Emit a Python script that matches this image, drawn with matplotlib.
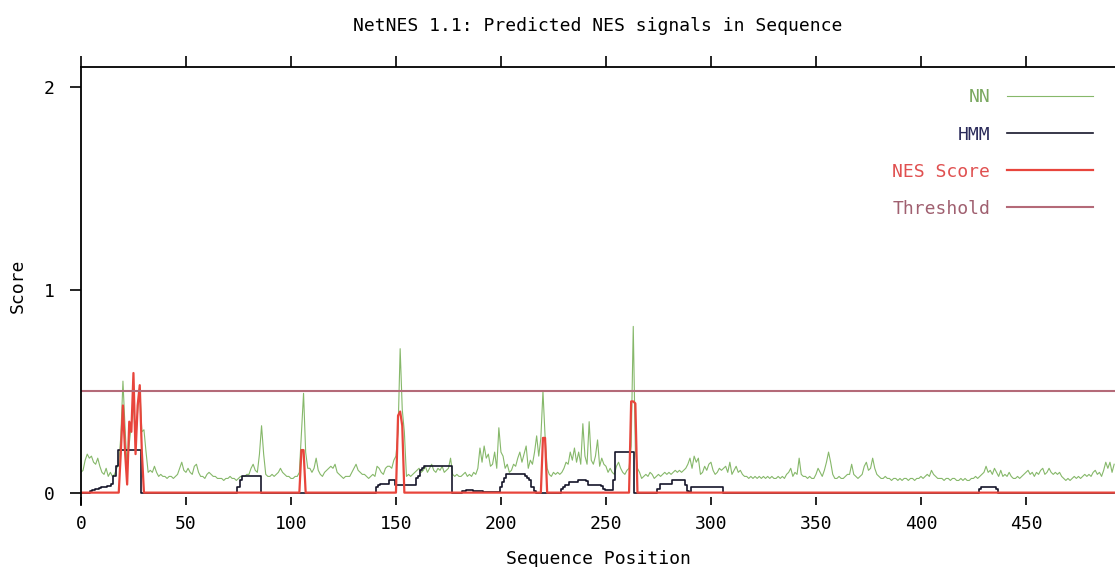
import matplotlib
matplotlib.use("Agg")
import matplotlib.pyplot as plt
import numpy as np

# NN score per residue (position 0..492)
nn = [
    0.10, 0.11, 0.16, 0.19, 0.17, 0.18, 0.15, 0.14, 0.17, 0.13,
    0.10, 0.09, 0.12, 0.08, 0.10, 0.08, 0.09, 0.12, 0.14, 0.28,
    0.55, 0.32, 0.12, 0.24, 0.34, 0.44, 0.24, 0.40, 0.52, 0.30,
    0.31, 0.20, 0.10, 0.11, 0.10, 0.13, 0.10, 0.08, 0.09, 0.08,
    0.08, 0.07, 0.08, 0.08, 0.07, 0.08, 0.09, 0.12, 0.15, 0.11,
    0.10, 0.12, 0.10, 0.09, 0.13, 0.14, 0.10, 0.08, 0.08, 0.07,
    0.09, 0.10, 0.09, 0.08, 0.08, 0.07, 0.07, 0.07, 0.06, 0.07,
    0.07, 0.08, 0.07, 0.07, 0.06, 0.07, 0.08, 0.08, 0.08, 0.09,
    0.09, 0.12, 0.14, 0.11, 0.10, 0.19, 0.33, 0.19, 0.09, 0.08,
    0.08, 0.09, 0.08, 0.09, 0.10, 0.12, 0.10, 0.09, 0.08, 0.08,
    0.07, 0.07, 0.08, 0.08, 0.10, 0.29, 0.49, 0.20, 0.12, 0.12,
    0.10, 0.12, 0.17, 0.11, 0.09, 0.08, 0.10, 0.11, 0.12, 0.13,
    0.12, 0.14, 0.10, 0.09, 0.08, 0.07, 0.08, 0.08, 0.08, 0.10,
    0.12, 0.14, 0.11, 0.10, 0.09, 0.09, 0.08, 0.07, 0.08, 0.09,
    0.08, 0.13, 0.12, 0.10, 0.09, 0.12, 0.13, 0.13, 0.12, 0.16,
    0.18, 0.30, 0.71, 0.41, 0.30, 0.08, 0.09, 0.08, 0.09, 0.10,
    0.11, 0.12, 0.10, 0.11, 0.13, 0.10, 0.12, 0.14, 0.11, 0.10,
    0.12, 0.11, 0.13, 0.10, 0.11, 0.12, 0.17, 0.09, 0.08, 0.09,
    0.08, 0.08, 0.09, 0.10, 0.08, 0.09, 0.08, 0.10, 0.09, 0.12,
    0.22, 0.15, 0.23, 0.17, 0.19, 0.13, 0.14, 0.20, 0.12, 0.32,
    0.20, 0.18, 0.12, 0.14, 0.10, 0.11, 0.14, 0.13, 0.17, 0.20,
    0.15, 0.19, 0.23, 0.12, 0.16, 0.14, 0.20, 0.28, 0.18, 0.27,
    0.50, 0.28, 0.12, 0.09, 0.08, 0.10, 0.09, 0.10, 0.09, 0.10,
    0.12, 0.15, 0.14, 0.20, 0.16, 0.22, 0.15, 0.20, 0.14, 0.34,
    0.18, 0.14, 0.35, 0.16, 0.14, 0.18, 0.26, 0.13, 0.17, 0.14,
    0.13, 0.10, 0.12, 0.10, 0.09, 0.13, 0.15, 0.12, 0.10, 0.09,
    0.11, 0.12, 0.23, 0.82, 0.21, 0.12, 0.10, 0.07, 0.08, 0.09,
    0.08, 0.10, 0.09, 0.07, 0.08, 0.09, 0.08, 0.09, 0.10, 0.09,
    0.10, 0.09, 0.10, 0.11, 0.10, 0.11, 0.10, 0.11, 0.12, 0.14,
    0.17, 0.12, 0.18, 0.15, 0.17, 0.09, 0.10, 0.13, 0.11, 0.14,
    0.15, 0.11, 0.09, 0.10, 0.12, 0.11, 0.12, 0.13, 0.10, 0.15,
    0.09, 0.11, 0.13, 0.10, 0.11, 0.09, 0.08, 0.08, 0.07, 0.08,
    0.07, 0.08, 0.07, 0.08, 0.07, 0.08, 0.07, 0.08, 0.07, 0.08,
    0.07, 0.07, 0.08, 0.07, 0.08, 0.07, 0.09, 0.10, 0.12, 0.08,
    0.10, 0.09, 0.17, 0.09, 0.08, 0.08, 0.07, 0.08, 0.07, 0.07,
    0.09, 0.12, 0.10, 0.08, 0.11, 0.15, 0.20, 0.15, 0.09, 0.07,
    0.07, 0.08, 0.07, 0.07, 0.08, 0.09, 0.09, 0.14, 0.09, 0.08,
    0.07, 0.08, 0.09, 0.13, 0.15, 0.11, 0.12, 0.17, 0.12, 0.09,
    0.08, 0.07, 0.07, 0.08, 0.07, 0.07, 0.06, 0.07, 0.07, 0.06,
    0.07, 0.06, 0.07, 0.07, 0.06, 0.07, 0.07, 0.06, 0.07, 0.07,
    0.08, 0.07, 0.08, 0.09, 0.08, 0.11, 0.09, 0.08, 0.07, 0.07,
    0.07, 0.06, 0.07, 0.07, 0.06, 0.07, 0.07, 0.06, 0.06, 0.07,
    0.06, 0.07, 0.06, 0.06, 0.07, 0.07, 0.08, 0.07, 0.08, 0.09,
    0.10, 0.13, 0.10, 0.11, 0.09, 0.12, 0.10, 0.08, 0.11, 0.08,
    0.09, 0.08, 0.10, 0.08, 0.07, 0.07, 0.08, 0.07, 0.08, 0.09,
    0.10, 0.11, 0.09, 0.10, 0.08, 0.10, 0.09, 0.11, 0.12, 0.09,
    0.10, 0.12, 0.10, 0.09, 0.10, 0.09, 0.10, 0.08, 0.07, 0.06,
    0.07, 0.06, 0.07, 0.08, 0.07, 0.08, 0.07, 0.08, 0.09, 0.08,
    0.09, 0.08, 0.10, 0.11, 0.09, 0.10, 0.08, 0.11, 0.15, 0.12,
    0.15, 0.10, 0.14,
]

# HMM score: non-zero stretches (start position, values)
hmm_segments = [
    (5, [0.01, 0.015, 0.02, 0.02, 0.025, 0.03, 0.03, 0.03, 0.035, 0.035,
         0.045, 0.08, 0.13, 0.21, 0.21, 0.21, 0.21, 0.21, 0.21, 0.21,
         0.21, 0.21, 0.21, 0.21]),
    (75, [0.03, 0.06, 0.08, 0.08, 0.08, 0.08, 0.08, 0.08, 0.08, 0.08, 0.08]),
    (141, [0.03, 0.04, 0.045, 0.045, 0.045, 0.045, 0.06, 0.06, 0.06,
           0.04, 0.04, 0.04, 0.04, 0.04, 0.04, 0.04, 0.04, 0.04, 0.04,
           0.07, 0.08, 0.11, 0.12, 0.13, 0.13, 0.13, 0.13, 0.13, 0.13,
           0.13, 0.13, 0.13, 0.13, 0.13, 0.13, 0.13]),
    (182, [0.01, 0.01, 0.015, 0.015, 0.015, 0.01, 0.01, 0.01, 0.01, 0.01,
           0.005, 0.005, 0.005, 0.005, 0.005, 0.005, 0.005, 0.005,
           0.03, 0.05, 0.07, 0.09, 0.09, 0.09, 0.09, 0.09, 0.09, 0.09,
           0.09, 0.09, 0.08, 0.07, 0.06, 0.03, 0.01]),
    (229, [0.02, 0.03, 0.04, 0.04, 0.05, 0.05, 0.05, 0.05, 0.06, 0.06,
           0.06, 0.06, 0.055, 0.04, 0.04, 0.04, 0.04, 0.04, 0.04, 0.035,
           0.02, 0.015, 0.015, 0.015, 0.015, 0.06, 0.20, 0.20, 0.20, 0.20,
           0.20, 0.20, 0.20, 0.20, 0.20]),
    (275, [0.02, 0.045, 0.045, 0.045, 0.045, 0.045, 0.045, 0.06, 0.06,
           0.06, 0.06, 0.06, 0.06, 0.04, 0.01, 0.005, 0.03, 0.03, 0.03,
           0.03, 0.03, 0.03, 0.03, 0.03, 0.03, 0.03, 0.03, 0.03, 0.03,
           0.03, 0.03]),
    (428, [0.02, 0.03, 0.03, 0.03, 0.03, 0.03, 0.03, 0.03, 0.02]),
]

# NES score: non-zero stretches (start position, values)
nes_segments = [
    (19, [0.20, 0.43, 0.20, 0.04, 0.35, 0.30, 0.59, 0.19, 0.43, 0.53, 0.20]),
    (105, [0.21, 0.21]),
    (151, [0.38, 0.40, 0.33]),
    (220, [0.27, 0.27]),
    (262, [0.45, 0.45, 0.44]),
]

threshold = 0.5
seq_len = len(nn)
pos = np.arange(seq_len)

hmm = np.zeros(seq_len)
for start, vals in hmm_segments:
    hmm[start:start + len(vals)] = vals
nes = np.zeros(seq_len)
for start, vals in nes_segments:
    nes[start:start + len(vals)] = vals

plt.rcParams["font.family"] = "DejaVu Sans Mono"

fig = plt.figure(figsize=(11.15, 5.67), dpi=100)
ax = fig.add_axes([0.0726, 0.109, 0.9274, 0.773])

l_nn, = ax.plot(pos, nn, color="#86b86a", lw=0.8, label="NN")
l_hmm, = ax.plot(pos, hmm, color="#15152a", lw=1.2, drawstyle="steps-mid", label="HMM")
l_nes, = ax.plot(pos, nes, color="#e8453c", lw=1.6, label="NES Score")
l_thr = ax.axhline(threshold, color="#b46a78", lw=1.5, label="Threshold")

ax.set_xlim(0, 492.4)
ax.set_ylim(-0.062, 2.1)

ax.set_xticks(np.arange(0, 451, 50))
ax.set_yticks([0, 1, 2])
ax.tick_params(axis="x", direction="in", length=6, width=1.2, labelsize=13,
               pad=7, top=True)
ax.tick_params(axis="y", direction="out", length=8, width=1.2, labelsize=13, pad=11)
for t in ax.xaxis.get_major_ticks():
    t.tick2line.set_markersize(8)
    t.tick2line.set_marker(matplotlib.lines.TICKUP)

ax.spines["bottom"].set_visible(False)
ax.spines["right"].set_visible(False)
ax.spines["left"].set_linewidth(1.3)
ax.spines["top"].set_linewidth(1.3)

ax.set_title("NetNES 1.1: Predicted NES signals in Sequence", fontsize=13, pad=26)
ax.set_xlabel("Sequence Position", fontsize=13, labelpad=12)
ax.set_ylabel("Score", fontsize=13, labelpad=12)

ax.legend([l_nn, l_hmm, l_nes, l_thr], ["NN", "HMM", "NES Score", "Threshold"],
          loc="upper right", bbox_to_anchor=(0.979, 0.951), markerfirst=False,
          frameon=False, fontsize=13, handlelength=4.8, handletextpad=0.9,
          labelspacing=1.06, borderaxespad=0, borderpad=0,
          labelcolor=["#7aa860", "#2a2a5a", "#e05050", "#a06070"])

fig.savefig("out.png", dpi=100)
